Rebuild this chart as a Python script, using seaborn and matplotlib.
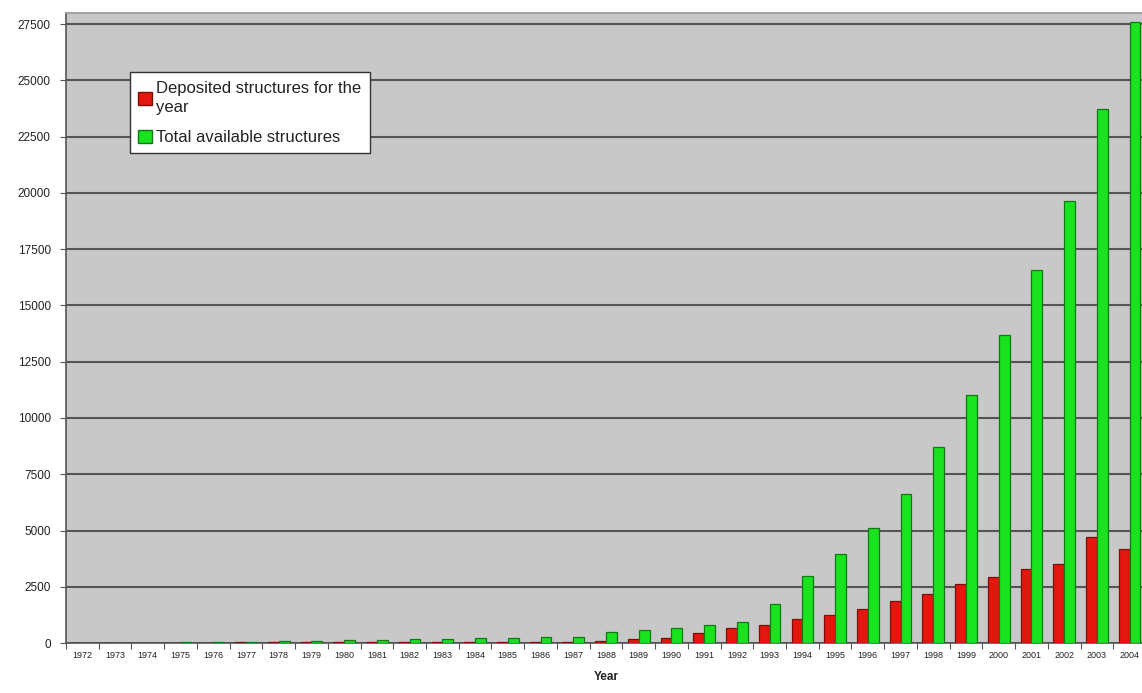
import matplotlib
matplotlib.use("Agg")
import matplotlib.pyplot as plt
import seaborn as sns
import pandas as pd
from matplotlib.ticker import MultipleLocator, FixedLocator

# Yearly PDB statistics, 1972-2004
years = [str(y) for y in range(1972, 2005)]
deposited = [1, 1, 3, 6, 20, 30, 35, 30, 30, 35, 40, 40, 45, 40, 35, 40,
             90, 180, 220, 450, 670, 800, 1070, 1250, 1520, 1880, 2190,
             2630, 2940, 3300, 3520, 4730, 4190]
total = [10, 15, 20, 30, 40, 60, 85, 105, 120, 140, 160, 180, 205, 225, 245,
         270, 500, 580, 660, 780, 950, 1720, 2960, 3950, 5100, 6630, 8720,
         11040, 13700, 16580, 19650, 23750, 27600]
series_names = ["Deposited structures for the\nyear", "Total available structures"]
y_ticks = list(range(0, 27501, 2500))

df = pd.DataFrame({
    "Year": years * 2,
    "Structures": deposited + total,
    "Series": [series_names[0]] * len(years) + [series_names[1]] * len(years),
})

sns.set_theme(style="white")
plt.rcParams["font.family"] = ["Liberation Sans", "DejaVu Sans"]

fig = plt.figure(figsize=(11.42, 6.93), dpi=100)
ax = fig.add_axes([66 / 1142, 50 / 693, 1080 / 1142, 630 / 693])
ax.set_facecolor("#c8c8c8")

face = {series_names[0]: "#e4170f", series_names[1]: "#19e21e"}
edge = ["#7a1008", "#0f7a12"]

sns.barplot(data=df, x="Year", y="Structures", hue="Series", palette=face,
            width=0.66, saturation=1, ax=ax, zorder=3, errorbar=None)
for cont, ec in zip(ax.containers, edge):
    for bar in cont:
        bar.set_edgecolor(ec)
        bar.set_linewidth(0.9)

ax.set_ylim(0, 28000)
ax.set_xlim(-0.5, len(years) - 0.5)
ax.yaxis.set_major_locator(FixedLocator(y_ticks))
ax.set_yticklabels([str(v) for v in y_ticks], fontsize=8.5, color="#222222")
ax.grid(axis="y", color="#555555", linewidth=1.5, zorder=1)
ax.set_axisbelow(True)

ax.tick_params(axis="x", which="major", length=0, labelsize=6.5,
               labelcolor="#222222", pad=6)
ax.xaxis.set_minor_locator(MultipleLocator(1, offset=0.5))
ax.tick_params(axis="x", which="minor", direction="out", length=4,
               width=0.8, color="#555555", bottom=True)
ax.tick_params(axis="y", direction="out", length=4, width=0.8,
               color="#555555", left=True, pad=7)

for side in ["left", "bottom"]:
    ax.spines[side].set_color("#555555")
    ax.spines[side].set_linewidth(1.2)
ax.spines["top"].set_color("#9a9a9a")
ax.spines["right"].set_visible(False)

ax.set_ylabel("")
ax.set_xlabel("Year", fontsize=8.5, fontweight="bold", labelpad=8,
              color="#222222")

handles, labels = ax.get_legend_handles_labels()
for h, ec in zip(handles, edge):
    h.set_edgecolor(ec)
leg = ax.legend(handles, labels, loc="upper left",
                bbox_to_anchor=(0.059, 0.906), borderaxespad=0,
                fontsize=12, frameon=True, fancybox=False,
                handlelength=0.85, handleheight=0.85, handletextpad=0.25,
                borderpad=0.5, labelspacing=0.85)
for t in leg.get_texts():
    t.set_linespacing(1.4)
    t.set_color("#222222")
leg.get_frame().set_edgecolor("#333333")
leg.get_frame().set_linewidth(1.0)
leg.get_frame().set_facecolor("white")
leg.get_frame().set_alpha(1)

fig.savefig("out.png", dpi=100)
